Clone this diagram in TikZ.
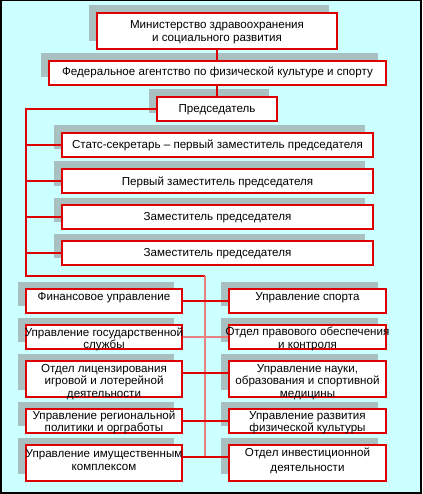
\documentclass[tikz,border=0pt]{standalone}
\usepackage{fontspec}
\setmainfont{Liberation Sans}
\usetikzlibrary{calc}
\definecolor{bgc}{RGB}{204,255,255}
\definecolor{shc}{RGB}{168,192,192}
\definecolor{rc}{RGB}{221,0,0}
\definecolor{pk}{RGB}{232,128,128}
\pgfdeclarelayer{bg}
\pgfdeclarelayer{shadow}
\pgfdeclarelayer{conn}
\pgfsetlayers{bg,shadow,conn,main}
\tikzset{
  obox/.style={rectangle, draw=rc, line width=1.5pt, fill=white, inner sep=0pt, outer sep=0pt},
  txt/.style={font=\fontsize{11.6}{12.5}\selectfont, align=center, inner sep=0pt, text=black},
  conn/.style={draw=rc, line width=1.2pt},
  pconn/.style={draw=pk, line width=1.6pt}
}
\newcommand\obox[7]{%
  \node[obox, minimum width={(#4)-(#2)}, minimum height={(#5)-(#3)}] (#1) at ({((#2)+(#4))/2},{((#3)+(#5))/2}) {};
  \begin{pgfonlayer}{shadow}
    \fill[shc] ($(#1.south west)+(-8.5,-7.5)$) rectangle ($(#1.north east)+(-8.5,-7.5)$);
  \end{pgfonlayer}
  \node[txt] (#1t) at ({((#2)+(#4))/2},#6) {#7};
}
\begin{document}
\begin{tikzpicture}[x=1pt,y=-1pt]
\useasboundingbox (0,0) rectangle (422,494);
\begin{pgfonlayer}{bg}
\fill[black] (0,0) rectangle (422,494);
\fill[bgc] (2,1) rectangle (420,491.5);
\end{pgfonlayer}

\obox{min}{97}{13}{337}{49}{32}{Министерство здравоохранения\\и социального развития}
\obox{fed}{49}{61}{386}{85}{72}{Федеральное агентство по физической культуре и спорту}
\obox{chair}{157}{97}{277}{121}{110}{Председатель}
\obox{d1}{62}{133}{373}{157}{145}{Статс-секретарь – первый заместитель председателя}
\obox{d2}{62}{169}{373}{193}{182}{Первый заместитель председателя}
\obox{d3}{62}{205}{373}{229}{217.5}{Заместитель председателя}
\obox{d4}{62}{241}{373}{265}{253.5}{Заместитель председателя}

\obox{L1}{26}{289}{182}{313}{298}{Финансовое управление}
\obox{L2}{26}{325}{182}{349}{339.5}{Управление государственной\\службы}
\obox{L3}{26}{361}{182}{397}{382}{Отдел лицензирования\\игровой и лотерейной\\деятельности}
\obox{L4}{26}{409}{182}{433}{422.5}{Управление региональной\\политики и оргработы}
\obox{L5}{26}{445}{182}{481}{460.5}{Управление имущественным\\[0.5pt]комплексом}

\obox{R1}{229}{289}{386}{313}{298}{Управление спорта}
\obox{R2}{229}{325}{386}{349}{339}{Отдел правового обеспечения\\и контроля}
\obox{R3}{229}{361}{386}{397}{382}{Управление науки,\\образования и спортивной\\медицины}
\obox{R4}{229}{409}{386}{433}{422.5}{Управление развития\\физической культуры}
\obox{R5}{229}{445}{386}{481}{460.5}{Отдел инвестиционной\\[2.5pt]деятельности}

\begin{pgfonlayer}{conn}
\coordinate (tl) at (26,109);
\coordinate (tb) at (26,276);
\coordinate (vt) at (205,276);
\coordinate (vb) at (205,457);
\draw[conn] (min.south) -- (min.south |- fed.north);
\draw[conn] (fed.south -| chair.north) -- (chair.north);
\draw[conn] (chair.west) -- (tl) -- (tb) -- (vt);
\foreach \d in {d1,d2,d3,d4}{\draw[conn] (\d.west) -- (\d.west -| tl);}
\draw[pconn] (vt) -- (vb);
\draw[conn] (L1.east) -- (R1.west);
\draw[pconn] (L2.east) -- (R2.west);
\draw[conn] ($(L3.north east)!1/3!(L3.south east)$) -- ($(R3.north west)!1/3!(R3.south west)$);
\draw[conn] (L4.east) -- (R4.west);
\draw[conn] ($(L5.north east)!1/3!(L5.south east)$) -- ($(R5.north west)!1/3!(R5.south west)$);
\end{pgfonlayer}
\end{tikzpicture}
\end{document}
